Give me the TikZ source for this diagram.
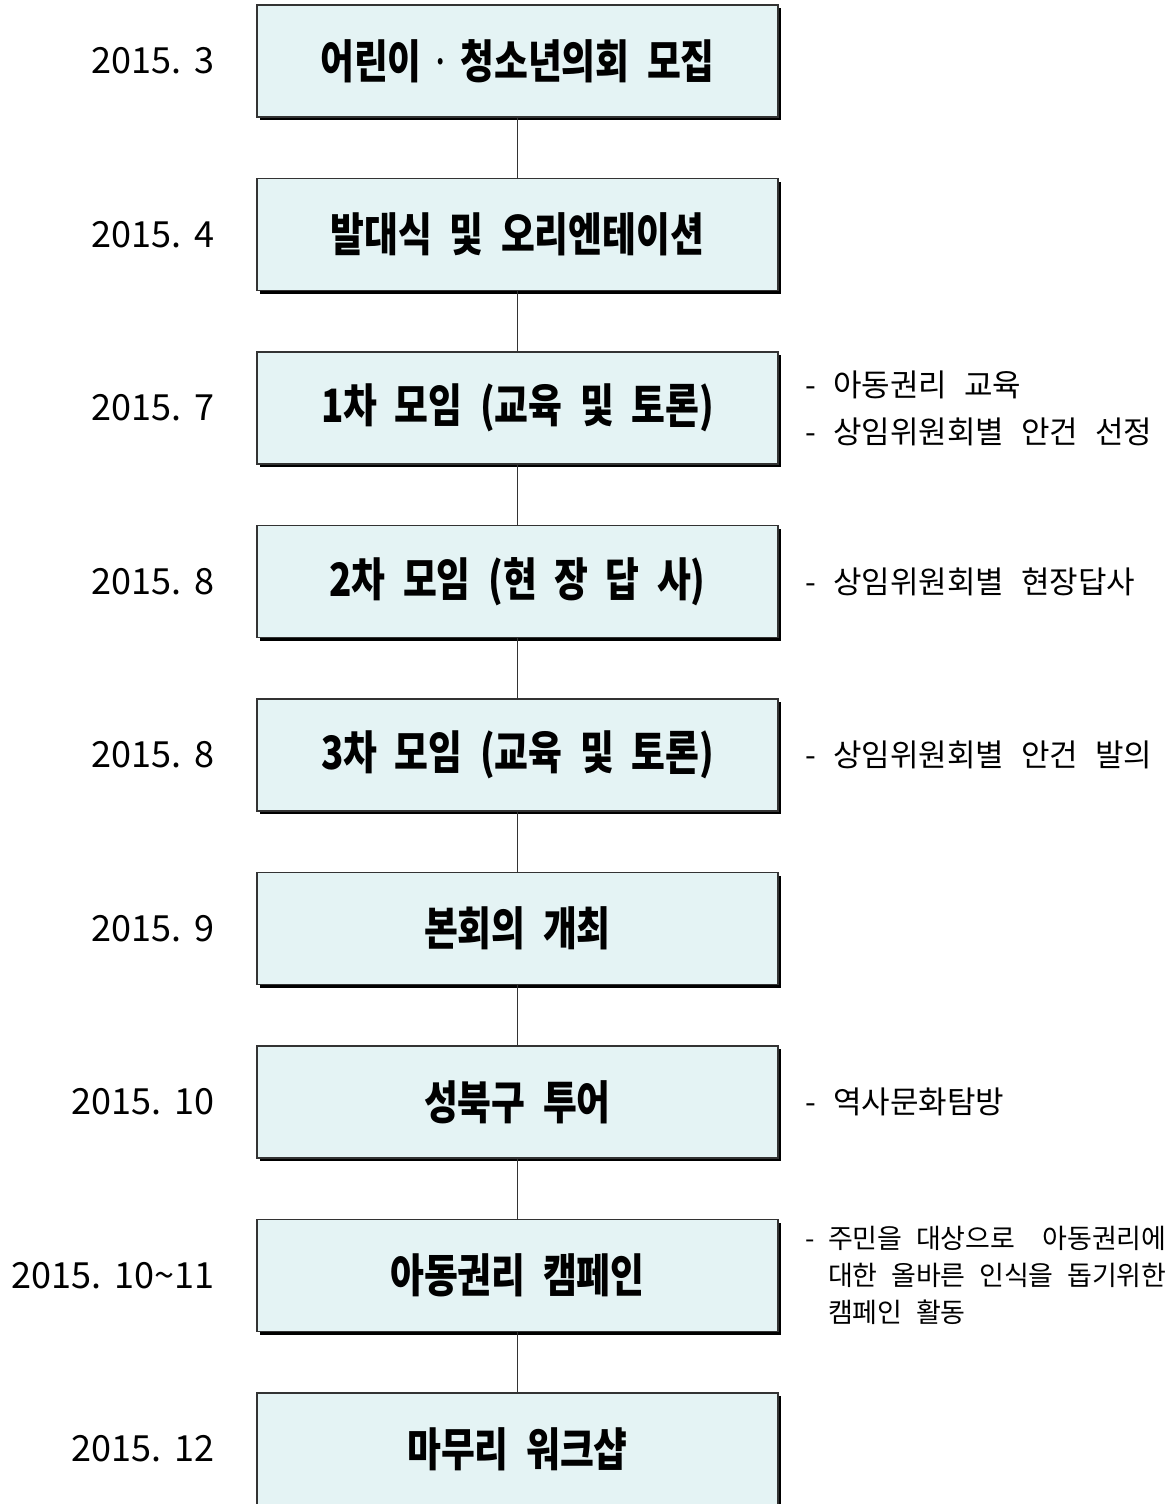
\documentclass[tikz,border=0pt]{standalone}
\usepackage{fontspec}
\newfontfamily\krfont{Noto Sans CJK KR}
\newfontfamily\krboxfont[FakeStretch=0.8]{Noto Sans CJK KR}
\newcommand\stepfont{\krboxfont\bfseries\fontsize{46}{52}\selectfont\spaceskip=0.38em\relax}
\newcommand\datefont{\krfont\fontsize{36}{40}\selectfont\spaceskip=0.3em\relax}
\newcommand\notefont{\krfont\fontsize{31}{37}\selectfont\spaceskip=0.55em\relax}
\newcommand\smallnotefont{\krfont\fontsize{27}{37}\selectfont\spaceskip=0.5em\relax}
\usetikzlibrary{shadows}
\definecolor{boxfill}{HTML}{E4F3F4}

\begin{document}
\begin{tikzpicture}[x=1pt,y=1pt,
      stepbox/.style={draw=black!80,line width=1.2pt,fill=boxfill,
        minimum width=521pt,minimum height=112pt,inner sep=0pt,
        font=\stepfont,
        drop shadow={shadow xshift=3pt,shadow yshift=-3pt,fill=black,opacity=1}},
      datelabel/.style={anchor=east,inner sep=0pt,font=\datefont},
      notelabel/.style={anchor=west,align=left,inner sep=0pt,font=\notefont},
      link/.style={draw=black!80,line width=1pt}]
      \useasboundingbox (0,0) rectangle (1174,-1504);

      % steps
      \node[stepbox] (b1) at (517.5,  -61)
        {어린이\hspace{9pt}{\mdseries·}\hspace{9pt}청소년의회 모집};
      \node[stepbox] (b2) at (517.5, -234.5) {발대식 및 오리엔테이션};
      \node[stepbox] (b3) at (517.5, -408)   {1차 모임 (교육 및 토론)};
      \node[stepbox] (b4) at (517.5, -581.5) {2차 모임 (현 장 답 사)};
      \node[stepbox] (b5) at (517.5, -755)   {3차 모임 (교육 및 토론)};
      \node[stepbox] (b6) at (517.5, -928.5) {본회의 개최};
      \node[stepbox] (b7) at (517.5, -1102)  {성북구 투어};
      \node[stepbox] (b8) at (517.5, -1275.5){아동권리 캠페인};
      \node[stepbox] (b9) at (517.5, -1449)  {마무리 워크샵};

      % dates
      \node[datelabel] (d1) at (215,  -61)   {2015. 3};
      \node[datelabel] (d2) at (215, -234.5) {2015. 4};
      \node[datelabel] (d3) at (215, -408)   {2015. 7};
      \node[datelabel] (d4) at (215, -581.5) {2015. 8};
      \node[datelabel] (d5) at (215, -755)   {2015. 8};
      \node[datelabel] (d6) at (215, -928.5) {2015. 9};
      \node[datelabel] (d7) at (215, -1102)  {2015. 10};
      \node[datelabel] (d8) at (215, -1275.5){2015. 10\textasciitilde 11};
      \node[datelabel] (d9) at (215, -1449)  {2015. 12};

      % notes
      \node[notelabel] (n3) at (805, -408)
        {- 아동권리 교육\\[10pt]- 상임위원회별 안건 선정};
      \node[notelabel] (n4) at (805, -581.5) {- 상임위원회별 현장답사};
      \node[notelabel] (n5) at (805, -755)   {- 상임위원회별 안건 발의};
      \node[notelabel] (n7) at (805, -1102)  {- 역사문화탐방};
      \node[notelabel,font=\smallnotefont] (n8) at (805, -1275.5)
        {- 주민을 대상으로 \ 아동권리에\\
         \hphantom{- }대한 올바른 인식을 돕기위한\\
         \hphantom{- }캠페인 활동};

      \path[link]
      (b1) edge (b2)
      (b2) edge (b3)
      (b3) edge (b4)
      (b4) edge (b5)
      (b5) edge (b6)
      (b6) edge (b7)
      (b7) edge (b8)
      (b8) edge (b9)
      ;
      \end{tikzpicture}
\end{document}
